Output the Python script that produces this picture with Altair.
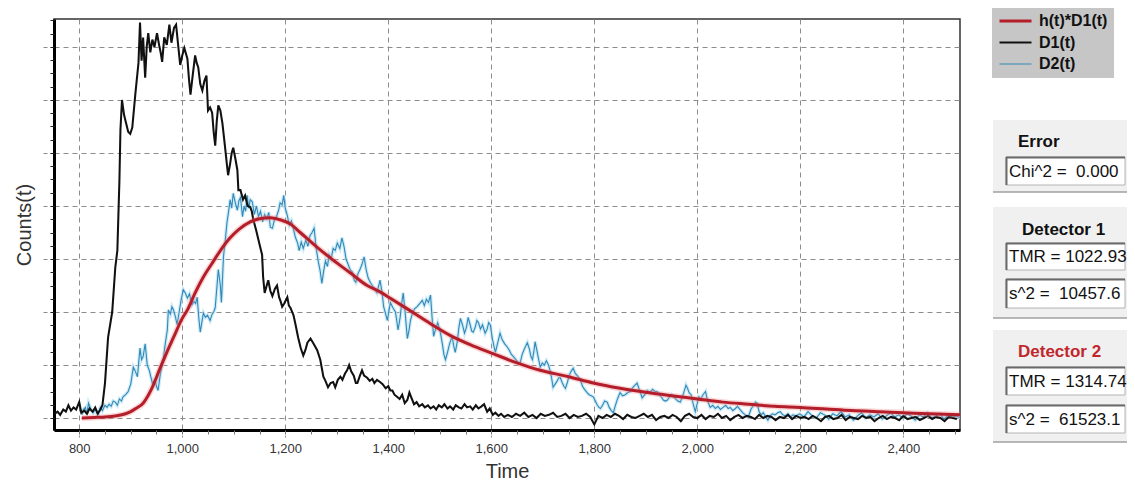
import altair as alt
import pandas as pd

FONT = "Liberation Sans, Arial, sans-serif"

# ---------------- series definitions ----------------
SERIES = ["h(t)*D1(t)", "D1(t)", "D2(t)"]
SERIES_COLORS = ["#b41e2b", "#111111", "#3388b8"]
SERIES_WIDTHS = [3.0, 1.1, 1.2]

# ---------------- axis values ----------------
X_TICKS = [800, 1000, 1200, 1400, 1600, 1800, 2000, 2200, 2400]
X_MINOR = [800, 850, 900, 950, 1000, 1050, 1100, 1150, 1200, 1250, 1300, 1350,
           1400, 1450, 1500, 1550, 1600, 1650, 1700, 1750, 1800, 1850, 1900,
           1950, 2000, 2050, 2100, 2150, 2200, 2250, 2300, 2350, 2400, 2450, 2500]
Y_GRID = [0, 50, 100, 150, 200, 250, 300, 350]
Y_MINOR = [0, 12.5, 25, 37.5, 50, 62.5, 75, 87.5, 100, 112.5, 125, 137.5, 150,
           162.5, 175, 187.5, 200, 212.5, 225, 237.5, 250, 262.5, 275, 287.5,
           300, 312.5, 325, 337.5, 350, 362.5, 375]
X_DOMAIN = [751, 2510]
Y_DOMAIN = [-11.3, 376.4]

# ---------------- fitted curve h(t)*D1(t) ----------------
FIT_T = [805, 830, 850, 870, 890, 900, 910, 924, 940, 957, 970, 983, 1000, 1010,
         1025, 1041, 1058, 1074, 1093, 1110, 1132, 1150, 1171, 1190, 1210, 1229,
         1262, 1293, 1326, 1359, 1384, 1404, 1440, 1482, 1520, 1560, 1602, 1650,
         1695, 1750, 1798, 1850, 1903, 1950, 2000, 2050, 2100, 2150, 2200, 2250,
         2300, 2350, 2400, 2450, 2510]
FIT_C = [0, 0.5, 1, 2, 4, 6, 9, 14, 27, 47, 62, 76, 94, 102, 118, 133, 146, 158,
         170, 178, 185, 188, 189, 187, 183, 175, 161, 149, 137, 125, 119, 113, 102,
         89, 78, 69, 61, 52, 45, 39, 33, 28, 24, 21, 18, 15, 13, 11, 10, 8.5, 7, 6,
         5, 4, 3]

# ---------------- detector 1 counts D1(t) ----------------
D1_MAIN = [
    (752, 4), (758, 6), (763, 3), (769, 8), (774, 6), (779, 12), (784, 7), (789, 10),
    (794, 8), (800, 15), (804, 5), (810, 7), (815, 4), (820, 9), (826, 6), (831, 10),
    (836, 4), (841, 8), (845, 12), (850, 33), (856, 76), (864, 100), (870, 142),
    (874, 158), (878, 224), (880, 272), (883, 300), (887, 286), (891, 278), (895, 270),
    (899, 268), (903, 274), (909, 306), (915, 335), (918, 373), (921, 337), (924, 359),
    (928, 321), (931, 350), (934, 363), (938, 345), (942, 357), (946, 350), (951, 363),
    (955, 352), (958, 345), (961, 336), (965, 359), (970, 352), (975, 371), (979, 354),
    (984, 368), (988, 371), (992, 352), (996, 333), (1000, 342), (1004, 349),
    (1010, 339), (1013, 320), (1016, 305), (1020, 322), (1025, 342), (1028, 335),
    (1031, 331), (1035, 315), (1039, 309), (1043, 318), (1047, 323), (1050, 290),
    (1054, 293), (1058, 288), (1061, 270), (1064, 257), (1067, 280), (1070, 295),
    (1074, 290), (1078, 278), (1083, 256), (1086, 242), (1089, 229), (1093, 240),
    (1096, 250), (1099, 255), (1103, 245), (1107, 234), (1109, 215), (1113, 215),
    (1118, 206), (1122, 210), (1127, 200), (1132, 199), (1135, 195), (1138, 187),
    (1143, 178), (1148, 168), (1152, 160), (1155, 154), (1157, 133), (1160, 118),
    (1164, 125), (1167, 130), (1171, 120), (1175, 115), (1180, 122), (1184, 125),
    (1188, 114), (1191, 110), (1194, 105), (1198, 108), (1204, 114), (1207, 106),
    (1210, 104), (1216, 97), (1220, 88), (1225, 76), (1230, 66), (1235, 59),
    (1239, 64), (1243, 71), (1249, 75), (1255, 70), (1262, 64), (1268, 55),
    (1274, 39), (1278, 35), (1283, 29), (1288, 33), (1293, 34), (1297, 29),
    (1302, 36), (1307, 39), (1311, 36), (1316, 42), (1320, 45), (1324, 50),
    (1328, 44), (1333, 40), (1337, 33), (1340, 33), (1345, 40), (1349, 45),
    (1353, 40), (1359, 38), (1364, 35), (1369, 37), (1373, 33), (1378, 36),
    (1384, 34), (1389, 32), (1395, 28), (1400, 30), (1404, 26), (1408, 26),
    (1412, 22), (1417, 20), (1422, 18), (1427, 22), (1432, 14), (1437, 17),
    (1441, 24), (1445, 19), (1450, 13), (1455, 15), (1460, 11), (1466, 13),
    (1471, 10), (1477, 12), (1482, 9), (1488, 11), (1493, 8), (1498, 12),
    (1504, 10), (1509, 13), (1515, 9), (1520, 11), (1526, 8), (1531, 12),
    (1537, 10), (1542, 9), (1548, 13), (1553, 10), (1559, 11), (1564, 8),
    (1570, 12), (1575, 9), (1581, 11), (1586, 13), (1592, 6), (1597, 9),
    (1603, 3), (1608, 5), (1614, 2), (1619, 4), (1625, 1),
]
D1_TAIL_START = 1632
D1_TAIL_STEP = 8
D1_TAIL_C = [3, 1, 4, 2, 5, 1, 3, 0, 4, 2, 3, 5, 1, 2, 4, 0, 3, 1, 2, 4, 1,
             -6, 2, 0, 3, 1, 4, 2, -1, 3, 1, 0, 2, 4, 1, 3, -2, 1, 2, 0, 3, 1, -3, 2, 4, 1,
             0, 3, -1, 2, 1, 4, 0, 2, -2, 1, 3, 0, 2, 1, -1, 3, 0, 2, 1, -2, 1, 0, 3, -1, 2, 0,
             1, -1, 2, 0, -3, 1, 2, -1, 0, 3, -2, 1, 0, -1, 2, 0, 1, -3, 0, 2, -1, 1, 0,
             -2, 2, -1, 0, 1, -2, 0, 2, -1, 1, 0, -3, 1, 0, -1]

# ---------------- detector 2 counts D2(t) ----------------
D2_MAIN = [
    (805, 3), (808, 8), (812, 10), (815, 4), (818, 14), (822, 9), (827, 5), (831, 8),
    (836, 3), (841, 10), (845, 7), (850, 12), (854, 10), (858, 13), (862, 11),
    (866, 16), (870, 15), (874, 12), (878, 18), (882, 16), (885, 20), (890, 22),
    (895, 25), (900, 32), (905, 48), (909, 44), (913, 39), (918, 66), (921, 55),
    (924, 58), (928, 70), (932, 50), (936, 45), (942, 33), (947, 36), (950, 30),
    (953, 26), (957, 40), (960, 48), (963, 55), (967, 70), (971, 83), (973, 102),
    (977, 98), (980, 105), (983, 102), (987, 95), (990, 88), (994, 100), (998, 112),
    (1002, 121), (1006, 118), (1010, 113), (1014, 117), (1019, 107), (1023, 110),
    (1026, 108), (1029, 114), (1032, 95), (1035, 81), (1038, 90), (1041, 99),
    (1045, 95), (1049, 97), (1054, 92), (1058, 98), (1061, 100), (1064, 104),
    (1067, 122), (1070, 140), (1074, 125), (1076, 109), (1078, 130), (1080, 152),
    (1084, 170), (1087, 185), (1090, 195), (1093, 206), (1096, 198), (1099, 212),
    (1103, 203), (1107, 196), (1110, 205), (1113, 208), (1117, 190), (1120, 200),
    (1123, 195), (1126, 210), (1129, 198), (1132, 206), (1136, 204), (1140, 192),
    (1144, 200), (1148, 190), (1152, 195), (1156, 185), (1160, 192), (1164, 188),
    (1168, 194), (1171, 180), (1175, 179), (1179, 187), (1183, 190), (1187, 196),
    (1190, 203), (1194, 201), (1197, 210), (1200, 198), (1204, 191), (1208, 182),
    (1212, 186), (1216, 178), (1220, 170), (1224, 165), (1227, 158), (1231, 166),
    (1235, 160), (1240, 168), (1244, 162), (1248, 172), (1252, 175), (1256, 179),
    (1260, 160), (1264, 148), (1268, 138), (1271, 127), (1275, 140), (1278, 148),
    (1282, 143), (1285, 154), (1289, 150), (1293, 160), (1297, 158), (1301, 165),
    (1306, 160), (1310, 170), (1314, 162), (1318, 150), (1322, 145), (1326, 140),
    (1330, 138), (1334, 130), (1337, 128), (1341, 136), (1345, 140), (1349, 145),
    (1353, 152), (1357, 140), (1361, 132), (1365, 128), (1369, 125), (1373, 122),
    (1378, 118), (1381, 124), (1384, 130), (1388, 118), (1391, 105), (1395, 98),
    (1398, 92), (1401, 100), (1404, 109), (1409, 104), (1414, 100), (1419, 83),
    (1423, 95), (1426, 108), (1429, 118), (1433, 98), (1437, 75), (1440, 82),
    (1443, 92), (1447, 99), (1451, 103), (1456, 105), (1461, 108), (1466, 111),
    (1470, 106), (1474, 112), (1478, 109), (1482, 116), (1485, 95), (1488, 77),
    (1492, 84), (1496, 90), (1501, 81), (1505, 70), (1508, 60), (1511, 55),
    (1515, 62), (1519, 70), (1524, 77), (1527, 68), (1530, 62), (1534, 72),
    (1537, 85), (1540, 94), (1544, 88), (1548, 80), (1552, 86), (1555, 95),
    (1559, 88), (1562, 82), (1565, 81), (1569, 86), (1572, 92), (1575, 90),
    (1579, 84), (1583, 88), (1588, 80), (1592, 84), (1595, 90), (1598, 88),
    (1602, 75), (1605, 68), (1608, 62), (1612, 70), (1617, 80), (1621, 74),
    (1626, 70), (1631, 67), (1635, 64), (1639, 60), (1643, 58), (1648, 55),
    (1652, 52), (1656, 52), (1660, 60), (1665, 66), (1670, 71), (1674, 65),
    (1677, 58), (1680, 55), (1683, 64), (1685, 72), (1688, 65), (1692, 55),
    (1695, 48), (1699, 52), (1703, 50), (1707, 54), (1711, 50), (1714, 45),
    (1717, 38), (1720, 29), (1724, 32), (1728, 35), (1731, 38), (1734, 38),
    (1738, 33), (1741, 30), (1744, 28), (1748, 34), (1751, 40), (1755, 44),
    (1759, 47), (1763, 42), (1767, 40), (1770, 38), (1773, 36), (1777, 30),
    (1781, 27), (1786, 24), (1790, 22), (1794, 21), (1798, 20), (1802, 16),
    (1806, 12), (1809, 10), (1812, 9), (1816, 12), (1820, 16), (1825, 15),
    (1829, 10), (1833, 7), (1837, 5), (1841, 12), (1845, 18), (1850, 24),
    (1855, 21), (1860, 22), (1865, 24), (1870, 25), (1875, 29), (1879, 31),
    (1883, 33), (1888, 26), (1893, 19), (1898, 22), (1903, 26), (1908, 24),
    (1913, 27), (1918, 25), (1922, 25), (1926, 22), (1930, 20), (1934, 17),
    (1938, 16), (1942, 17), (1946, 20), (1950, 22), (1954, 20), (1958, 18),
    (1962, 16), (1967, 15), (1971, 20), (1975, 26), (1978, 31), (1981, 28),
    (1984, 24), (1988, 22), (1992, 13), (1996, 6), (2000, 14), (2003, 20),
    (2007, 18), (2011, 22), (2016, 25), (2020, 16), (2025, 10), (2030, 12),
    (2035, 9), (2040, 11), (2045, 8), (2050, 10), (2055, 12), (2060, 9),
    (2064, 10), (2069, 7), (2074, 9), (2078, 11), (2083, 8), (2088, 5),
    (2093, 3), (2099, 1), (2104, 8), (2109, 12), (2113, 15), (2116, 14),
    (2120, 6), (2124, 3), (2128, 5), (2133, 1), (2137, -2), (2141, 2),
    (2146, 4), (2151, 3), (2156, 5), (2161, 6), (2166, 3), (2171, 2),
    (2176, 4), (2181, 1), (2186, 3), (2191, 2),
]
D2_TAIL_START = 2199
D2_TAIL_STEP = 8
D2_TAIL_C = [4, 1, 6, 2, 0, 5, 3, -1, 4, 2, 6, 1, 3, -2, 2, 5, 0, 3, 1, 4, -1, 2,
             5, 1, 3, 0, 4, 2, -2, 3, 1, 5, 0, 2, 4, -1, 3, 1, 2, 0]

# ---------------- side panel texts ----------------
PANEL_TITLES = ["Error", "Detector 1", "Detector 2"]
PANEL_TITLE_COLORS = ["#111111", "#111111", "#c0272d"]
BOX_TEXTS = ["Chi^2 =\u00a0\u00a00.000", "TMR = 1022.93", "s^2 =\u00a0\u00a010457.6",
             "TMR = 1314.74", "s^2 =\u00a0\u00a061523.1"]

# ---------------- build tables ----------------
fit_df = pd.DataFrame({"t": FIT_T, "c": FIT_C, "series": SERIES[0]})
d1_t = [p[0] for p in D1_MAIN] + [D1_TAIL_START + D1_TAIL_STEP * i for i in range(len(D1_TAIL_C))]
d1_c = [p[1] for p in D1_MAIN] + D1_TAIL_C
d1_df = pd.DataFrame({"t": d1_t, "c": d1_c, "series": SERIES[1]})
d2_t = [p[0] for p in D2_MAIN] + [D2_TAIL_START + D2_TAIL_STEP * i for i in range(len(D2_TAIL_C))]
d2_c = [p[1] for p in D2_MAIN] + D2_TAIL_C
d2_df = pd.DataFrame({"t": d2_t, "c": d2_c, "series": SERIES[2]})

xs = alt.Scale(domain=X_DOMAIN, nice=False, zero=False)
ys = alt.Scale(domain=Y_DOMAIN, nice=False, zero=False)

GRID_COLOR = "#8c8c8c"

x_major = alt.Axis(values=X_TICKS, labelExpr="format(datum.value, ',')", grid=True,
                   gridColor=GRID_COLOR, gridDash=[5, 4], gridWidth=1, domain=True,
                   domainColor="#000000", domainWidth=3, ticks=True, tickColor=GRID_COLOR,
                   tickDash=[3, 2], tickSize=7, tickWidth=1, labels=True, labelFont=FONT,
                   labelFontSize=13, labelColor="#333333", labelPadding=11,
                   labelBaseline="middle", title="Time", titleFont=FONT,
                   titleFontSize=20, titleFontWeight="normal", titleColor="#333333",
                   titleX=453, titleY=41, titleBaseline="middle", titleAlign="center")
y_major = alt.Axis(values=Y_GRID, grid=True, gridColor=GRID_COLOR, gridDash=[5, 4],
                   gridWidth=1, labels=False, ticks=True, tickSize=11,
                   tickColor=GRID_COLOR, tickDash=[4, 3], domain=True,
                   domainColor="#000000", domainWidth=3, title="Counts(t)",
                   titleFont=FONT, titleFontSize=20, titleFontWeight="normal",
                   titleColor="#333333", titleX=-30, titleY=205.5, titleAngle=270,
                   titleBaseline="middle", titleAlign="center")
x_minor = alt.Axis(orient="bottom", values=X_MINOR, grid=False, labels=False,
                   domain=False, ticks=True, tickSize=4, tickColor="#777777", title=None)
y_minor = alt.Axis(orient="left", values=Y_MINOR, grid=False, labels=False,
                   domain=False, ticks=True, tickSize=4, tickColor="#222222", title=None)

legend = alt.Legend(orient="none", legendX=938, legendY=-12, title=None,
                    symbolType="stroke", symbolSize=1024, clipHeight=16,
                    labelFont=FONT, labelFontSize=16, labelFontWeight="bold",
                    labelColor="#111111", labelOffset=6, fillColor="#c6c6c6",
                    padding=6, rowPadding=5.5)
color_enc = alt.Color("series:N", scale=alt.Scale(domain=SERIES, range=SERIES_COLORS), legend=legend)
width_enc = alt.StrokeWidth("series:N", scale=alt.Scale(domain=SERIES, range=SERIES_WIDTHS), legend=legend)

blue_halo = alt.Chart(d2_df).mark_line(color="#b7e2f3", strokeWidth=3.5, opacity=0.7, clip=True).encode(
    x=alt.X("t:Q", scale=xs, axis=x_major), y=alt.Y("c:Q", scale=ys, axis=y_major))
blue = alt.Chart(d2_df).mark_line(clip=True).encode(
    x=alt.X("t:Q", scale=xs, axis=x_minor), y=alt.Y("c:Q", scale=ys, axis=y_minor),
    color=color_enc, strokeWidth=width_enc)
black = alt.Chart(d1_df).mark_line(clip=True).encode(
    x=alt.X("t:Q", scale=xs, axis=None), y=alt.Y("c:Q", scale=ys, axis=None),
    color=color_enc, strokeWidth=width_enc)
red_halo = alt.Chart(fit_df).mark_line(color="#f08a8a", strokeWidth=6, opacity=0.35,
                                       interpolate="monotone", clip=True).encode(
    x=alt.X("t:Q", scale=xs, axis=None), y=alt.Y("c:Q", scale=ys, axis=None))
red = alt.Chart(fit_df).mark_line(interpolate="monotone", clip=True).encode(
    x=alt.X("t:Q", scale=xs, axis=None), y=alt.Y("c:Q", scale=ys, axis=None),
    color=color_enc, strokeWidth=width_enc)

# ---------------- side panels (decorations) ----------------
one = pd.DataFrame({"k": [0]})


def rect(x1, x2, y1, y2, fill, stroke=None, sw=0.0):
    kw = {"fill": fill}
    if stroke is not None:
        kw.update(stroke=stroke, strokeWidth=sw)
    return alt.Chart(one).mark_rect(**kw).encode(
        x=alt.value(x1), x2=alt.value(x2), y=alt.value(y1), y2=alt.value(y2))


def rule(x1, x2, y1, y2, color, sw):
    return alt.Chart(one).mark_rule(color=color, strokeWidth=sw).encode(
        x=alt.value(x1), x2=alt.value(x2), y=alt.value(y1), y2=alt.value(y2))


def label(s, x, y, size, weight, color):
    return alt.Chart(one).mark_text(text=s, align="left", baseline="middle", font=FONT,
                                    fontSize=size, fontWeight=weight, color=color).encode(
        x=alt.value(x), y=alt.value(y))


PANEL_X = (939, 1073)
PANEL_Y = [(101, 173), (188, 299), (311, 423)]
TITLE_POS = [(964, 123), (968, 211), (964, 333)]
BOX_X = (952, 1071)
BOX_Y = [(138, 166), (224, 251), (260, 289), (348, 376), (386, 414)]

deco = []
for (y1, y2) in PANEL_Y:
    deco.append(rect(PANEL_X[0], PANEL_X[1], y1, y2, "#f0f0f0"))
    deco.append(rule(PANEL_X[0], PANEL_X[1], y2, y2, "#a0a0a0", 1.5))
for s, (x, y), col in zip(PANEL_TITLES, TITLE_POS, PANEL_TITLE_COLORS):
    deco.append(label(s, x, y, 17, "bold", col))
for s, (y1, y2) in zip(BOX_TEXTS, BOX_Y):
    deco.append(rect(BOX_X[0], BOX_X[1], y1, y2, "#ffffff", "#b4b4b4", 1))
    deco.append(rule(BOX_X[0], BOX_X[1], y1 + 0.5, y1 + 0.5, "#6a6a6a", 2))
    deco.append(rule(BOX_X[0] + 0.5, BOX_X[0] + 0.5, y1, y2, "#6a6a6a", 2))
    deco.append(label(s, BOX_X[0] + 3, (y1 + y2) / 2 + 0.5, 17, "normal", "#111111"))

chart = alt.layer(blue_halo, blue, black, red_halo, red, *deco).resolve_axis(
    x="independent", y="independent"
).properties(
    width=906, height=411,
    autosize=alt.AutoSizeParams(type="none"),
    padding={"left": 46, "top": 11, "right": 167, "bottom": 50},
    background="#ffffff",
).configure_view(stroke="#333333", strokeWidth=1.5)

chart.save("out.html", embed_options={"renderer": "svg", "actions": False})
